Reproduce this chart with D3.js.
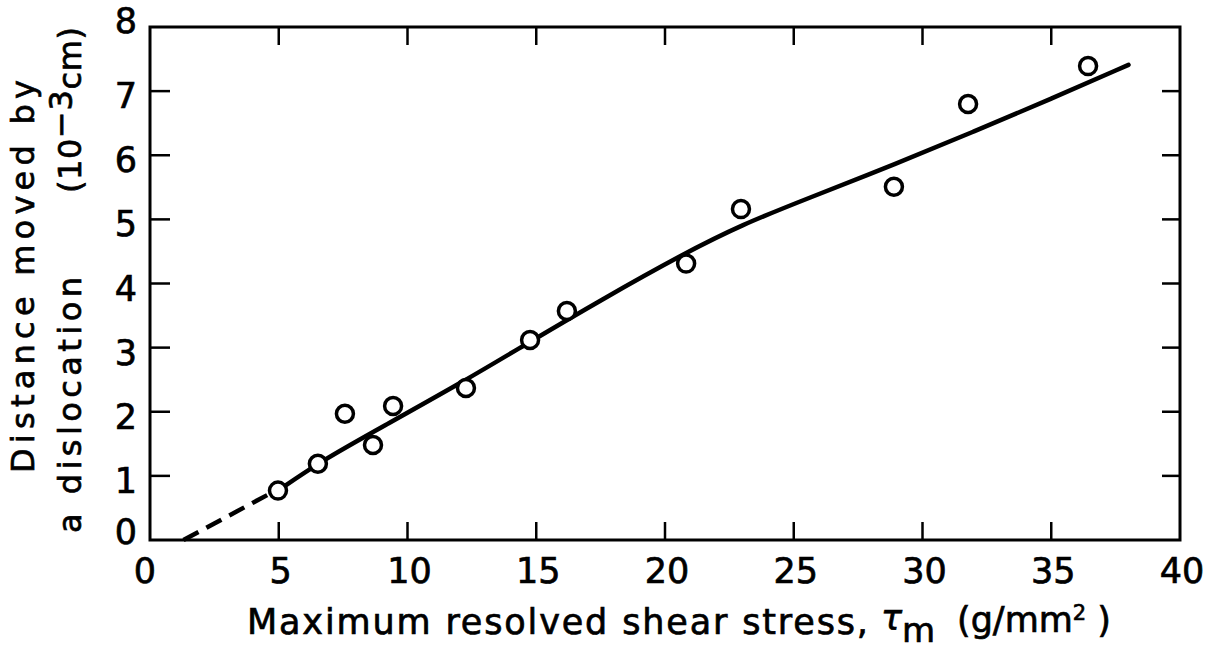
<!DOCTYPE html>
<html>
<head>
<meta charset="utf-8">
<script src="https://cdn.jsdelivr.net/npm/d3@7"></script>
<style>
  html, body { margin: 0; padding: 0; background: #fff; }
  svg { display: block; font-family: "DejaVu Sans", sans-serif; }
  text { stroke: #000; stroke-width: 0.7px; }
</style>
</head>
<body>
<div id="chart"></div>
<script>
// measured points (stress g/mm^2, distance 10^-3 cm)
const stress = [4.97, 6.52, 7.57, 8.66, 9.44, 12.27, 14.76, 16.19, 20.82, 22.95, 28.89, 31.77, 36.43];
const distance = [0.77, 1.19, 1.97, 1.48, 2.09, 2.37, 3.12, 3.57, 4.31, 5.16, 5.51, 6.80, 7.39];

// hand-drawn fit curve
const fitX = [4.97, 6.6, 9, 12.3, 14.75, 17.5, 20.7, 23, 25.5, 29, 32, 35, 38];
const fitY = [0.77, 1.22, 1.76, 2.5, 3.09, 3.74, 4.46, 4.92, 5.32, 5.87, 6.37, 6.88, 7.41];
// dashed extrapolation to the x axis
const dashX = [1.3, 4.55];
const dashY = [0, 0.70];

const xTicks = [0, 5, 10, 15, 20, 25, 30, 35, 40];
const yTicks = [0, 1, 2, 3, 4, 5, 6, 7, 8];

const width = 1223;
const height = 657;
const x = d3.scaleLinear().domain([0, 40]).range([150, 1180]);
const y = d3.scaleLinear().domain([0, 8]).range([540, 27]);

const svg = d3.select("#chart")
  .append("svg")
  .attr("width", width)
  .attr("height", height);

// frame
svg.append("rect")
  .attr("x", x(0))
  .attr("y", y(8))
  .attr("width", x(40) - x(0))
  .attr("height", y(0) - y(8))
  .attr("fill", "none")
  .attr("stroke", "#000")
  .attr("stroke-width", 3);

// inward ticks on all four sides
const tickLen = 18;
const inner = xTicks.slice(1, -1);
svg.append("g").selectAll("line")
  .data(inner)
  .join("line")
  .attr("x1", (d) => x(d)).attr("x2", (d) => x(d))
  .attr("y1", y(0)).attr("y2", y(0) - tickLen)
  .attr("stroke", "#000").attr("stroke-width", 2.5);
svg.append("g").selectAll("line")
  .data(inner)
  .join("line")
  .attr("x1", (d) => x(d)).attr("x2", (d) => x(d))
  .attr("y1", y(8)).attr("y2", y(8) + tickLen)
  .attr("stroke", "#000").attr("stroke-width", 2.5);
const yInner = yTicks.slice(1, -1);
svg.append("g").selectAll("line")
  .data(yInner)
  .join("line")
  .attr("x1", x(0)).attr("x2", x(0) + tickLen + 2)
  .attr("y1", (d) => y(d)).attr("y2", (d) => y(d))
  .attr("stroke", "#000").attr("stroke-width", 2.5);
svg.append("g").selectAll("line")
  .data(yInner)
  .join("line")
  .attr("x1", x(40)).attr("x2", x(40) - tickLen)
  .attr("y1", (d) => y(d)).attr("y2", (d) => y(d))
  .attr("stroke", "#000").attr("stroke-width", 2.5);

// tick labels
svg.append("g")
  .attr("font-size", 35)
  .attr("text-anchor", "middle")
  .selectAll("text")
  .data(xTicks)
  .join("text")
  .attr("x", (d) => x(d) + (d === 0 ? -5 : 2))
  .attr("y", y(0) + 43)
  .text((d) => d);

svg.append("g")
  .attr("font-size", 35)
  .attr("text-anchor", "end")
  .selectAll("text")
  .data(yTicks)
  .join("text")
  .attr("x", x(0) - 13)
  .attr("y", (d) => y(d) + (d === 0 ? -8 : d === 8 ? -6 : 5))
  .attr("dominant-baseline", "central")
  .text((d) => d);

// fit line
const line = d3.line()
  .x((d) => x(d[0]))
  .y((d) => y(d[1]))
  .curve(d3.curveBasis);

svg.append("path")
  .datum(dashX.map((v, i) => [v, dashY[i]]))
  .attr("d", line)
  .attr("fill", "none")
  .attr("stroke", "#000")
  .attr("stroke-width", 4.5)
  .attr("stroke-dasharray", "17 9");

svg.append("path")
  .datum(fitX.map((v, i) => [v, fitY[i]]))
  .attr("d", line)
  .attr("fill", "none")
  .attr("stroke", "#000")
  .attr("stroke-width", 4.5)
  .attr("stroke-linecap", "round");

// open circles
svg.append("g").selectAll("circle")
  .data(stress.map((v, i) => [v, distance[i]]))
  .join("circle")
  .attr("cx", (d) => x(d[0]))
  .attr("cy", (d) => y(d[1]))
  .attr("r", 8.5)
  .attr("fill", "#fff")
  .attr("stroke", "#000")
  .attr("stroke-width", 3.5);

// x axis title
const xt = svg.append("g").attr("font-size", 35);
xt.append("text")
  .attr("x", 247).attr("y", 634)
  .attr("textLength", 621)
  .attr("lengthAdjust", "spacing")
  .text("Maximum resolved shear stress,");
const tau = xt.append("text").attr("x", 881).attr("y", 630);
tau.append("tspan").attr("font-style", "italic").text("τ");
tau.append("tspan").attr("dy", 12).attr("font-size", 34).text("m");
const unit = xt.append("text").attr("x", 957).attr("y", 632);
unit.append("tspan").text("(g/mm");
unit.append("tspan").attr("dy", -12).attr("font-size", 21).text("2");
unit.append("tspan").attr("dy", 12).text(" )");

// y axis title, two rotated lines
const yt = svg.append("g").attr("font-size", 32);
yt.append("text")
  .attr("transform", "translate(34,473) rotate(-90)")
  .attr("textLength", 393)
  .attr("lengthAdjust", "spacing")
  .text("Distance moved by");
yt.append("text")
  .attr("transform", "translate(81,533) rotate(-90)")
  .attr("textLength", 256)
  .attr("lengthAdjust", "spacing")
  .text("a dislocation");
const unitY = yt.append("text")
  .attr("transform", "translate(81,193) rotate(-90)")
  .attr("textLength", 166)
  .attr("lengthAdjust", "spacing");
unitY.append("tspan").text("(10");
unitY.append("tspan").attr("dy", -9).text("−3");
unitY.append("tspan").attr("dy", 9).text("cm)");
</script>
</body>
</html>
